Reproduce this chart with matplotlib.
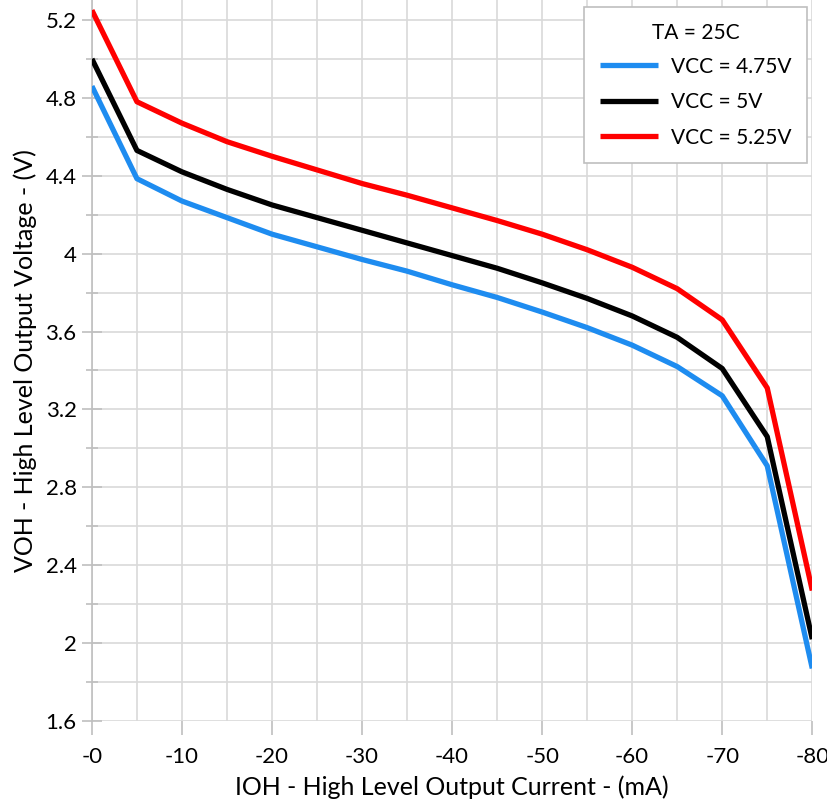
import matplotlib
matplotlib.use("Agg")
import matplotlib.pyplot as plt
from matplotlib.ticker import MultipleLocator

plt.rcParams['font.family'] = ['Lato', 'DejaVu Sans']

# IOH (mA) and VOH (V)
ioh = [0, -5, -10, -15, -20, -25, -30, -35, -40, -45, -50, -55, -60, -65, -70, -75, -80]
voh_475 = [4.86, 4.385, 4.27, 4.185, 4.10, 4.035, 3.97, 3.91, 3.84, 3.775, 3.70, 3.62, 3.53, 3.42, 3.27, 2.91, 1.87]
voh_500 = [5.00, 4.53, 4.42, 4.33, 4.25, 4.185, 4.12, 4.055, 3.99, 3.925, 3.85, 3.77, 3.68, 3.57, 3.41, 3.06, 2.02]
voh_525 = [5.25, 4.78, 4.67, 4.575, 4.50, 4.43, 4.36, 4.30, 4.235, 4.17, 4.10, 4.02, 3.93, 3.82, 3.66, 3.31, 2.27]

series = [("VCC = 4.75V", voh_475, "#1E8CF0"),
          ("VCC = 5V", voh_500, "black"),
          ("VCC = 5.25V", voh_525, "#FF0000")]

fig = plt.figure(figsize=(8.28, 8.07), dpi=100)
ax = fig.add_axes([0.111, 0.1066, 0.870, 0.8928])

for label, v, c in series:
    ax.plot(ioh, v, color=c, lw=3.8, label=label, solid_capstyle='butt', zorder=3)

ax.set_xlim(0, -80)
ax.set_ylim(1.6, 5.3)

ax.xaxis.set_minor_locator(MultipleLocator(5))
ax.yaxis.set_minor_locator(MultipleLocator(0.2))
ax.set_xticks([0, -10, -20, -30, -40, -50, -60, -70, -80])
ax.set_xticklabels(["-0", "-10", "-20", "-30", "-40", "-50", "-60", "-70", "-80"])
ax.set_yticks([1.6, 2.0, 2.4, 2.8, 3.2, 3.6, 4.0, 4.4, 4.8, 5.2])
ax.set_yticklabels(["1.6", "2", "2.4", "2.8", "3.2", "3.6", "4", "4.4", "4.8", "5.2"])

ax.grid(which='both', color='#D9D9D9', lw=1.2, zorder=0)
for s in ['top', 'right', 'bottom']:
    ax.spines[s].set_visible(False)
ax.spines['left'].set_color('#BFBFBF')
ax.spines['left'].set_linewidth(1.2)

ax.tick_params(axis='x', which='major', length=10, color='#BFBFBF', width=1.2, labelsize=16, pad=9)
ax.tick_params(axis='x', which='minor', length=0)
ax.tick_params(axis='y', which='major', direction='inout', length=14, color='#BFBFBF', width=1.2, labelsize=16, pad=4)
ax.tick_params(axis='y', which='minor', direction='inout', length=8, color='#BFBFBF', width=1.2)

ax.set_xlabel("IOH - High Level Output Current - (mA)", fontsize=18, labelpad=6)
ax.set_ylabel("VOH - High Level Output Voltage - (V)", fontsize=18, labelpad=6)

leg = ax.legend(title="TA = 25C", loc='upper right', bbox_to_anchor=(807 / 828, 1 - 7 / 807),
                bbox_transform=fig.transFigure, borderaxespad=0,
                fontsize=15, title_fontsize=15, handlelength=2.8, handletextpad=0.6,
                borderpad=0.75, labelspacing=0.75, fancybox=False, framealpha=1)
leg.get_frame().set_edgecolor('#BFBFBF')
leg.get_frame().set_linewidth(1.2)
leg._legend_box.sep = 10

fig.savefig("out.png", dpi=100)
